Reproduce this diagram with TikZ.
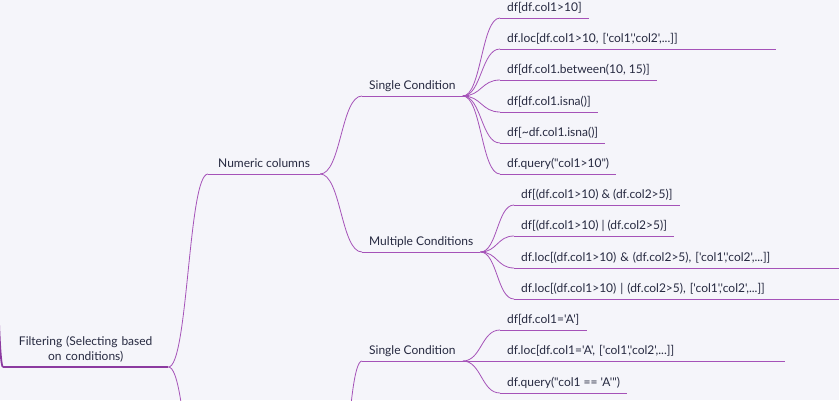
\documentclass[tikz,border=0pt]{standalone}
\usepackage{fontspec}
\setmainfont{Lato}[Ligatures=TeXOff]
\usetikzlibrary{calc}

\definecolor{paper}{HTML}{F5F5FA}
\definecolor{ink}{HTML}{262940}
\definecolor{vine}{HTML}{A552B8}
\definecolor{stem}{HTML}{8C3AA0}

\begin{document}
\begin{tikzpicture}[x=1pt,y=-1pt,
    mapnode/.style={anchor=south west,inner ysep=5pt,font=\fontsize{12}{15}\selectfont,text=ink},
    topic/.style={mapnode,inner xsep=7pt,inner ysep=3.2pt,text height=9.5pt,text depth=3pt},
    wide/.style={text width=#1,align=left},
    branch/.style={draw=vine,line width=0.8pt,
        to path={let \p1=(\tikztostart),\p2=(\tikztotarget) in
            .. controls ({(\x1+\x2)/2},\y1) and ({(\x1+\x2)/2},\y2) .. (\tikztotarget)}},
    uline/.style={draw=vine,line width=0.8pt}]
    \fill[paper] (0,0) rectangle (839,400);
    \useasboundingbox (0,0) rectangle (839,400);
    \clip (0,0) rectangle (839,400);

    % root and its neighbours outside the frame
    \coordinate (up) at (-9,150);
    \coordinate (catl) at (208,560);
    \coordinate (catr) at (330,560);
    \node[mapnode,align=center,text width=155pt,inner xsep=5pt] (root) at (3,367)
        {Filtering (Selecting based\\on conditions)};

    % first level
    \node[topic,inner xsep=10pt] (num) at (208,174) {Numeric columns};
    \node[topic] (sc) at (362,96) {Single Condition};
    \node[topic] (mc) at (362,252) {Multiple Conditions};
    \node[topic] (bsc) at (362,361) {Single Condition};

    % leaves, single condition
    \node[topic] (s1) at (500,18) {df[df.col1>10]};
    \node[topic,wide=262pt] (s2) at (500,49) {df.loc[df.col1>10, ['col1','col2',...]]};
    \node[topic] (s3) at (500,80) {df[df.col1.between(10, 15)]};
    \node[topic] (s4) at (500,112) {df[df.col1.isna()]};
    \node[topic] (s5) at (500,143) {df[\textasciitilde df.col1.isna()]};
    \node[topic] (s6) at (500,174) {df.query("col1>10")};

    % leaves, multiple conditions
    \node[topic] (m1) at (514,205) {df[(df.col1>10) \& (df.col2>5)]};
    \node[topic] (m2) at (514,236) {df[(df.col1>10) | (df.col2>5)]};
    \node[topic,wide=330pt] (m3) at (514,268) {df.loc[(df.col1>10) \& (df.col2>5), ['col1','col2',...]]};
    \node[topic,wide=330pt] (m4) at (514,299) {df.loc[(df.col1>10) | (df.col2>5), ['col1','col2',...]]};

    % leaves, bottom single condition
    \node[topic] (b1) at (500,330) {df[df.col1='A']};
    \node[topic,wide=271pt] (b2) at (500,361) {df.loc[df.col1='A', ['col1','col2',...]]};
    \node[topic] (b3) at (500,393) {df.query("col1 == 'A'")};

    % underlines
    \draw[draw=stem,line width=1.8pt] (root.south west) -- (root.south east);
    \foreach \leaf in {num,sc,mc,bsc,s1,s2,s3,s4,s5,s6,m1,m2,m3,m4,b1,b2,b3}
        \draw[uline] (\leaf.south west) -- (\leaf.south east);

    % connectors
    \path (up) edge[branch,draw=stem,line width=1.8pt] (root.south west)
        (root.south east) edge[branch] (num.south west)
        (root.south east) edge[branch] (catl)
        (catr) edge[branch] (bsc.south west)
        (num.south east) edge[branch] (sc.south west)
        (num.south east) edge[branch] (mc.south west);
    \foreach \leaf in {s1,s2,s3,s4,s5,s6}
        \path (sc.south east) edge[branch] (\leaf.south west);
    \foreach \leaf in {m1,m2,m3,m4}
        \path (mc.south east) edge[branch] (\leaf.south west);
    \foreach \leaf in {b1,b2,b3}
        \path (bsc.south east) edge[branch] (\leaf.south west);
\end{tikzpicture}
\end{document}
